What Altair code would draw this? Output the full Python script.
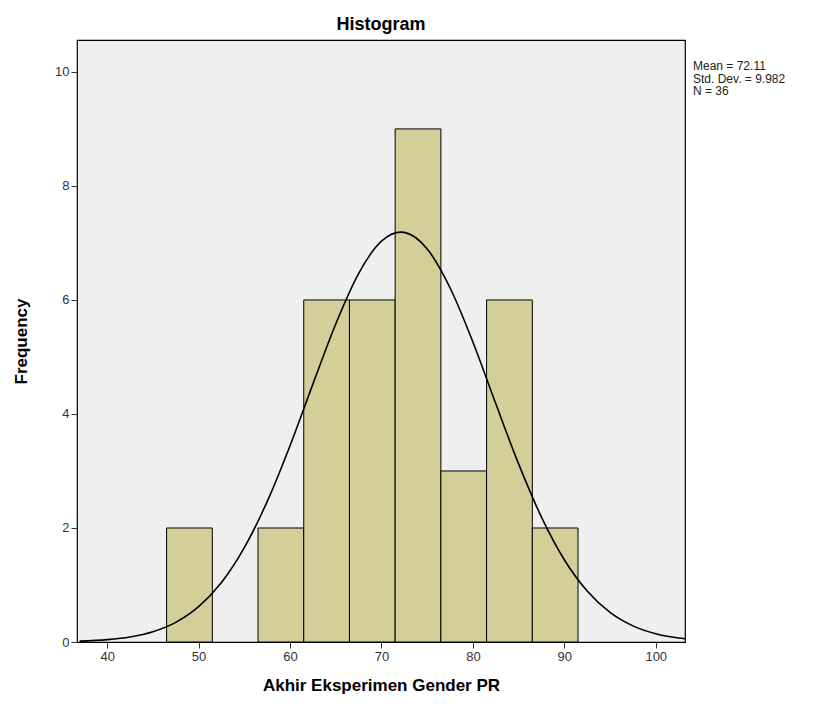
import altair as alt
import pandas as pd

# Histogram bins (bin edges) and counts
bin_start = [46.5, 56.5, 61.5, 66.5, 71.5, 76.5, 81.5, 86.5]
bin_end = [51.5, 61.5, 66.5, 71.5, 76.5, 81.5, 86.5, 91.5]
counts = [2, 2, 6, 6, 9, 3, 6, 2]

# Normal curve
curve_x = [37, 40, 42.5, 45, 47.5, 50, 52.5, 55, 57.5, 60, 62.5, 65, 67.5, 70,
           72.11, 72.5, 75, 77.5, 80, 82.5, 85, 87.5, 90, 92.5, 95, 97.5, 100,
           102.5, 104]
curve_y = [0.015, 0.041, 0.088, 0.18, 0.344, 0.619, 1.043, 1.655, 2.463, 3.444,
           4.523, 5.579, 6.463, 7.031, 7.19, 7.185, 6.895, 6.214, 5.263, 4.182,
           3.124, 2.191, 1.443, 0.893, 0.519, 0.283, 0.145, 0.07, 0.044]

stats_lines = ["Mean = 72.11", "Std. Dev. = 9.982", "N = 36"]

x_ticks = [40, 50, 60, 70, 80, 90, 100]
y_ticks = [0, 2, 4, 6, 8, 10]

FONT = "Liberation Sans"
W, H = 608, 602

bars_df = pd.DataFrame({"start": bin_start, "end": bin_end, "count": counts})
curve_df = pd.DataFrame({"x": curve_x, "y": curve_y})
stats_df = pd.DataFrame({"label": ["\n".join(stats_lines)]})

xscale = alt.Scale(domain=[36.7, 103.2], nice=False, zero=False)
yscale = alt.Scale(domain=[0, 10.56], nice=False)

xaxis = alt.Axis(values=x_ticks, format="d", title="Akhir Eksperimen Gender PR",
                 grid=False, domain=False, tickSize=6, tickColor="#333333",
                 labelColor="#333333", labelFontSize=13, labelFont=FONT,
                 labelPadding=2, titleFont=FONT, titleFontSize=17,
                 titleFontWeight="bold", titleColor="black", titlePadding=14)
yaxis = alt.Axis(values=y_ticks, format="d", title="Frequency", grid=False,
                 domain=False, tickSize=6, tickColor="#333333", labelColor="#333333",
                 labelFontSize=13, labelFont=FONT, labelPadding=2,
                 titleFont=FONT, titleFontSize=17, titleFontWeight="bold",
                 titleColor="black", titlePadding=24)

bars = alt.Chart(bars_df).mark_rect(
    color="#d4cf98", stroke="black", strokeWidth=1
).encode(
    x=alt.X("start:Q", scale=xscale, axis=xaxis),
    x2="end:Q",
    y=alt.Y("count:Q", scale=yscale, axis=yaxis),
    y2=alt.datum(0),
)

curve = alt.Chart(curve_df).mark_line(
    color="black", strokeWidth=1.6, interpolate="monotone", clip=True
).encode(
    x=alt.X("x:Q", scale=xscale),
    y=alt.Y("y:Q", scale=yscale),
)

stats = alt.Chart(stats_df).mark_text(
    align="left", baseline="top", font=FONT, fontSize=12, color="#222222",
    lineBreak="\n", lineHeight=12.5
).encode(
    x=alt.value(W + 8),
    y=alt.value(21),
    text="label:N",
)

chart = alt.layer(bars, curve, stats).properties(
    width=W,
    height=H,
    title=alt.TitleParams("Histogram", font=FONT, fontSize=18, fontWeight="bold",
                          color="black", anchor="middle", offset=6),
    autosize=alt.AutoSizeParams(type="none"),
    padding={"left": 77, "top": 40, "right": 134, "bottom": 67},
    background="white",
).configure_view(
    fill="#efefef", stroke="black", strokeWidth=1.2
)

chart.save("out.html", embed_options={"renderer": "svg", "actions": False})
